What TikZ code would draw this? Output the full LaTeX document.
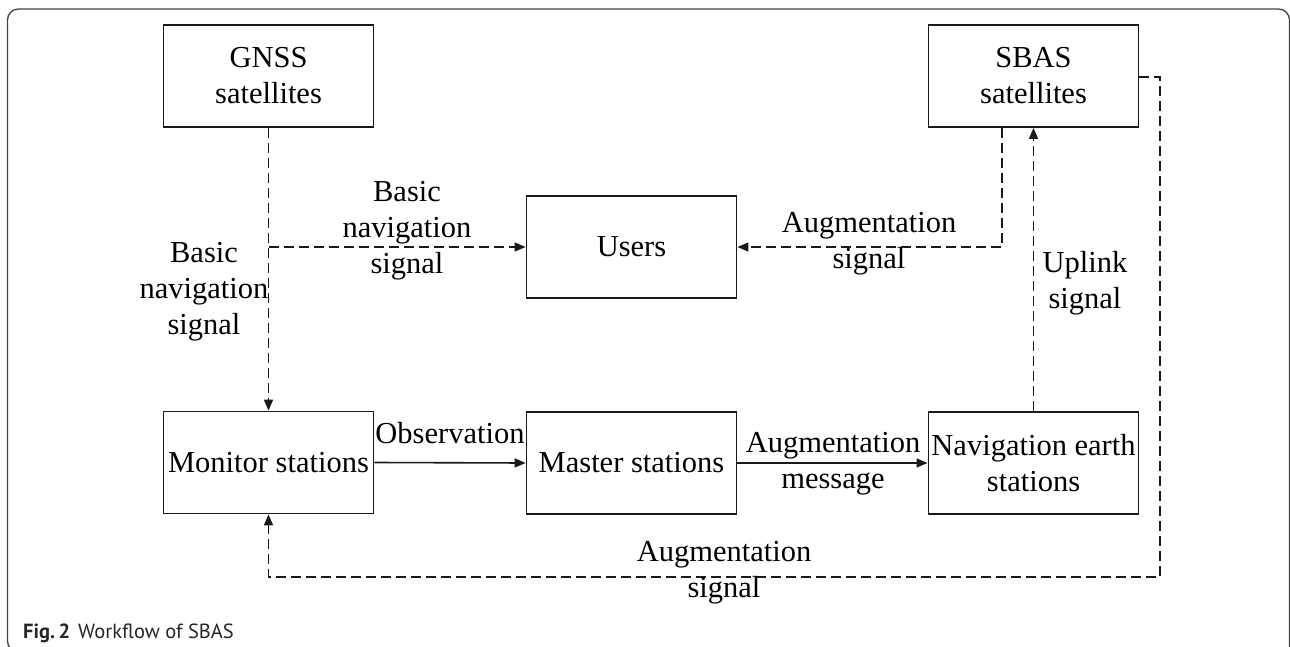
\documentclass[tikz,border=0pt]{standalone}
\usepackage{fontspec}
\setmainfont{Liberation Serif}
\newfontfamily\capfont{PT Sans}
\usetikzlibrary{arrows.meta}
\definecolor{linegray}{HTML}{1A1A1A}
\definecolor{framegray}{HTML}{444444}
\tikzset{
  box/.style={draw=linegray, line width=1.8pt, minimum width=210pt, minimum height=102pt, inner sep=0pt, align=center, font=\fontsize{30.5}{36}\selectfont},
  lbl/.style={inner sep=0pt, align=center, font=\fontsize{30.5}{36}\selectfont},
  dsh/.style={draw=linegray, line width=1.6pt, dash pattern=on 10pt off 5pt},
  sol/.style={draw=linegray, line width=1.6pt},
  arr/.style={-{Triangle[length=11pt,width=9pt]}},
  frm/.style={draw=framegray, line width=1.3pt, rounded corners=11pt}
}
\begin{document}
\begin{tikzpicture}[x=1pt,y=-1pt]
\useasboundingbox (0,0) rectangle (1290,647);
\draw[frm] (1289.5,652) |- (7.5,9) |- (1289.5,652);
% boxes
\node[box] (gnss) at (268.5,76) {GNSS\\satellites};
\node[box] (sbas) at (1033.5,76) {SBAS\\satellites};
\node[box] (users) at (631.5,247) {Users};
\node[box] (mon) at (268.5,462.5) {Monitor stations};
\node[box] (mas) at (631.5,463) {Master stations};
\node[box] (nav) at (1033.5,463) {Navigation earth\\stations};
% connectors
\draw[dsh,arr] (gnss.south) -- (mon.north);
\coordinate (j1) at (gnss.south |- users.west);
\draw[dsh,arr] (j1) -- (users.west);
\draw[dsh,arr] ([xshift=-31.5pt]sbas.south) |- (users.east);
\draw[dsh,arr] (nav.north) -- (sbas.south);
\coordinate (rc) at (1160,577);
\draw[dsh,arr] ([yshift=-1pt]sbas.east) -| (rc) -| (mon.south);
\draw[sol,arr] (mon.east) -- (mas.west);
\draw[sol,arr] (mas.east) -- (nav.west);
% labels
\node[lbl] (l1) at (204,292) {Basic\\navigation\\signal};
\node[lbl] (l2) at (407,231) {Basic\\navigation\\signal};
\node[lbl] (l3) at (869,244) {Augmentation\\signal};
\node[lbl] (l4) at (1085,283) {Uplink\\signal};
\node[lbl,anchor=base] (l5) at (450,443) {Observation};
\node[lbl] (l6) at (833,464) {Augmentation\\message};
\node[lbl] (l7) at (724,573) {Augmentation\\signal};
% caption
\node[anchor=base west, inner sep=0pt, text=black!85, font=\capfont\fontsize{20.5}{24}\selectfont] (cap) at (23,638) {\textbf{Fig.\,2}\hspace{8pt}Workflow of SBAS};
\end{tikzpicture}
\end{document}
